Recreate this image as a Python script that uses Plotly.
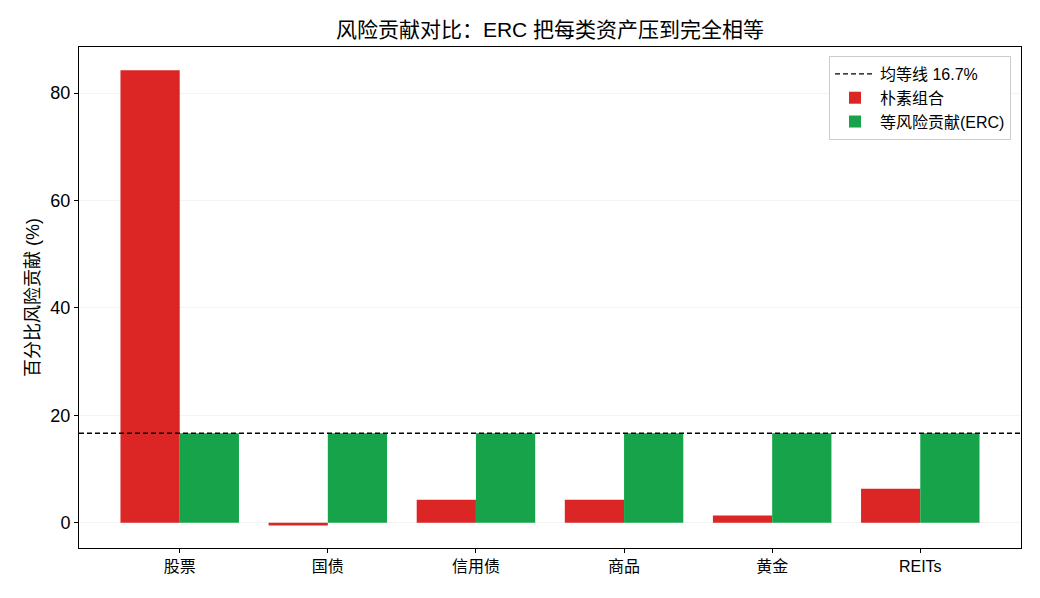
import plotly.graph_objects as go

categories = ["股票", "国债", "信用债", "商品", "黄金", "REITs"]
naive_rc = [84.25, -0.5, 4.29, 4.3, 1.36, 6.34]
erc_rc = [16.67, 16.67, 16.67, 16.67, 16.67, 16.67]
equal_line = 100 / 6

FONT = "Liberation Sans, Arial, Noto Sans CJK SC, sans-serif"
x_idx = list(range(len(categories)))
xr = [-0.68, len(categories) - 1 + 0.68]

fig = go.Figure()
fig.add_trace(go.Scatter(
    x=xr, y=[equal_line, equal_line], mode="lines",
    line=dict(color="black", width=1.3, dash="5px,3px"),
    name="均等线 16.7%", hoverinfo="skip"))
fig.add_trace(go.Bar(x=x_idx, y=naive_rc, name="朴素组合", marker=dict(color="#dc2626", line=dict(width=0))))
fig.add_trace(go.Bar(x=x_idx, y=erc_rc, name="等风险贡献(ERC)", marker=dict(color="#16a34a", line=dict(width=0))))

fig.update_layout(
    width=1040, height=598,
    margin=dict(l=79, r=19, t=47, b=50),
    paper_bgcolor="white", plot_bgcolor="white",
    font=dict(family=FONT, color="black", size=16),
    barmode="group", bargap=0.2, bargroupgap=0,
    title=dict(text="风险贡献对比：ERC 把每类资产压到完全相等", x=0.5, xref="paper",
               y=1 - 30 / 598, yanchor="middle", font=dict(size=21)),
    legend=dict(x=0.9894, y=0.982, xanchor="right", yanchor="top",
                bgcolor="rgba(255,255,255,0.9)", bordercolor="#cccccc", borderwidth=1,
                font=dict(size=16), traceorder="normal", itemwidth=40),
    showlegend=True,
)
fig.update_xaxes(
    range=xr, tickmode="array", tickvals=x_idx, ticktext=categories,
    showline=True, linecolor="black", linewidth=1, mirror=True,
    ticks="outside", ticklen=4, tickcolor="black", showgrid=False, zeroline=False,
    tickfont=dict(size=16))
fig.update_yaxes(
    range=[-4.7, 88.6], tickvals=[0, 20, 40, 60, 80],
    showline=True, linecolor="black", linewidth=1, mirror=True,
    ticks="outside", ticklen=4, tickcolor="black",
    showgrid=True, gridcolor="rgba(200,200,200,0.22)", gridwidth=1, zeroline=False,
    layer="above traces",
    tickfont=dict(size=18),
    title=dict(text="百分比风险贡献 (%)", font=dict(size=18), standoff=6))

fig.write_html("out.html")
